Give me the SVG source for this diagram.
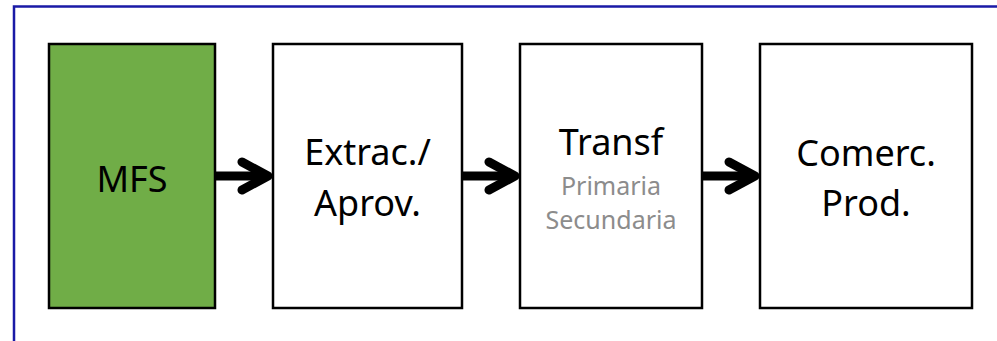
<svg xmlns="http://www.w3.org/2000/svg" width="997" height="341" viewBox="0 0 997 341">
<style>
.box{fill:#ffffff;stroke:#000000;stroke-width:2.5}
.main{font-family:"Noto Sans","Open Sans",sans-serif;font-size:36px;fill:#000000;text-anchor:middle}
.sub{font-family:"Noto Sans","Open Sans",sans-serif;font-size:25px;fill:#8c8c8c;text-anchor:middle}
.shaft{stroke:#000000;stroke-width:9;fill:none}
.head{stroke:#000000;stroke-width:9;fill:none;stroke-linecap:round;stroke-linejoin:round}
</style>
<rect width="997" height="341" fill="#ffffff"/>
<rect x="14" y="6.5" width="1100" height="400" fill="none" stroke="#1a1aa6" stroke-width="2.5"/>
<g id="connectors">
<path class="shaft" d="M215 176 H266"/>
<path class="head" d="M242 162 L268 176 L242 190"/>
<path class="shaft" d="M462 176 H513"/>
<path class="head" d="M489 162 L515 176 L489 190"/>
<path class="shaft" d="M702 176 H753"/>
<path class="head" d="M729 162 L755 176 L729 190"/>
</g>
<g id="mfs">
<rect class="box" x="49" y="44" width="166" height="264" fill="#70ad47" style="fill:#70ad47"/>
<text class="main" x="132" y="192">MFS</text>
</g>
<g id="extrac">
<rect class="box" x="273" y="44" width="189" height="264"/>
<text class="main" x="367.5" y="165">Extrac./</text>
<text class="main" x="367.5" y="216">Aprov.</text>
</g>
<g id="transf">
<rect class="box" x="520" y="44" width="182" height="264"/>
<text class="main" x="611" y="155">Transf</text>
<text class="sub" x="611" y="195">Primaria</text>
<text class="sub" x="611" y="229">Secundaria</text>
</g>
<g id="comerc">
<rect class="box" x="760" y="44" width="212" height="264"/>
<text class="main" x="866" y="166">Comerc.</text>
<text class="main" x="866" y="216">Prod.</text>
</g>
</svg>
